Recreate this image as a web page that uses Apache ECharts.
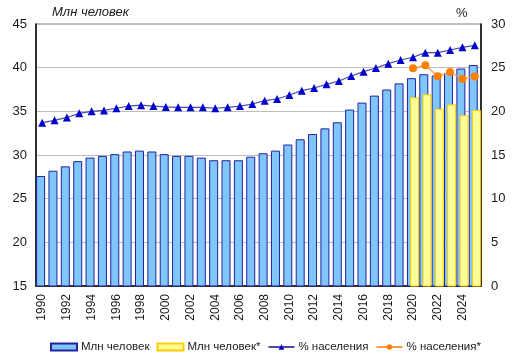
<!DOCTYPE html>
<html><head><meta charset="utf-8">
<script src="https://cdn.jsdelivr.net/npm/echarts@6/dist/echarts.min.js"></script>
<style>html,body{margin:0;padding:0;background:#fff}#c{width:517px;height:360px}</style>
</head><body><div id="c"></div>
<script>
const years = ['1990','1991','1992','1993','1994','1995','1996','1997','1998','1999','2000','2001','2002','2003','2004','2005','2006','2007','2008','2009','2010','2011','2012','2013','2014','2015','2016','2017','2018','2019','2020','2021','2022','2023','2024','2025'];
const mlnPeople = [27.6,28.2,28.7,29.3,29.7,29.9,30.1,30.4,30.5,30.4,30.1,29.9,29.9,29.7,29.4,29.4,29.4,29.8,30.2,30.5,31.2,31.8,32.4,33.05,33.75,35.2,36.0,36.8,37.5,38.2,38.8,39.25,39.1,39.4,39.9,40.3];
const mlnPeopleStar = [null,null,null,null,null,null,null,null,null,null,null,null,null,null,null,null,null,null,null,null,null,null,null,null,null,null,null,null,null,null,36.6,36.95,35.3,35.8,34.55,35.15];
const pctPop = [18.7,18.97,19.3,19.77,20.0,20.1,20.35,20.6,20.7,20.6,20.5,20.46,20.46,20.46,20.35,20.46,20.6,20.84,21.22,21.41,21.87,22.37,22.67,23.09,23.47,24.05,24.54,24.96,25.46,25.88,26.19,26.72,26.72,27.02,27.33,27.56];
const pctPopStar = [null,null,null,null,null,null,null,null,null,null,null,null,null,null,null,null,null,null,null,null,null,null,null,null,null,null,null,null,null,null,24.92,25.27,24.01,24.5,23.7,24.0];
const leftTicks = {min:15,max:45,interval:5};
const rightTicks = {min:0,max:30,interval:5};

const FONT = '"Liberation Sans", Arial, sans-serif';
const chart = echarts.init(document.getElementById('c'), null, {renderer:'canvas'});
chart.setOption({
  animation:false,
  textStyle:{fontFamily:FONT},
  grid:{left:36,right:36,top:24,bottom:74,show:true,borderColor:'#808080',borderWidth:1,backgroundColor:'transparent'},
  graphic:[
    {type:'text',left:52,top:6,style:{text:'Млн человек',font:'italic 13px '+FONT,fill:'#1a1a1a'}},
    {type:'text',left:456,top:7,style:{text:'%',font:'13px '+FONT,fill:'#1a1a1a'}}
  ],
  legend:{
    top:341,left:50,width:500,itemWidth:26,itemHeight:7,itemGap:7,
    padding:0,
    textStyle:{fontFamily:FONT,fontSize:11.5,color:'#1a1a1a',padding:[0,0,0,-1]},
    data:[
      {name:'Млн человек',icon:'rect'},
      {name:'Млн человек*',icon:'rect'},
      {name:'% населения'},
      {name:'% населения*'}
    ]
  },
  xAxis:{
    type:'category',data:years,boundaryGap:true,
    axisLine:{lineStyle:{color:'#000',width:1.5}},
    axisTick:{show:false},
    axisLabel:{rotate:90,interval:1,fontSize:12,color:'#1a1a1a',margin:8,fontFamily:FONT}
  },
  yAxis:[
    {type:'value',min:leftTicks.min,max:leftTicks.max,interval:leftTicks.interval,
     axisLine:{show:true,lineStyle:{color:'#000',width:1.5}},axisTick:{show:false},
     axisLabel:{fontSize:13,color:'#1a1a1a',margin:9,fontFamily:FONT},
     splitLine:{show:true,lineStyle:{color:'#bdbdbd',width:1}}},
    {type:'value',min:rightTicks.min,max:rightTicks.max,interval:rightTicks.interval,position:'right',
     axisLine:{show:true,lineStyle:{color:'#000',width:1.5}},axisTick:{show:false},
     axisLabel:{fontSize:13,color:'#1a1a1a',margin:10,fontFamily:FONT},
     splitLine:{show:false}}
  ],
  series:[
    {name:'Млн человек',type:'bar',data:mlnPeople,barWidth:9,barGap:'-65%',
     itemStyle:{color:'#7fc6fb',borderColor:'#2323a0',borderWidth:1}},
    {name:'Млн человек*',type:'bar',data:mlnPeopleStar,barWidth:9,barGap:'-65%',
     itemStyle:{color:'#ffff99',borderColor:'#ffcc00',borderWidth:1}},
    {name:'% населения',type:'line',yAxisIndex:1,data:pctPop,symbol:'triangle',symbolSize:8,
     lineStyle:{color:'#4a4aa8',width:1.2},itemStyle:{color:'#0000cc'},z:5},
    {name:'% населения*',type:'line',yAxisIndex:1,data:pctPopStar,symbol:'circle',symbolSize:8,
     lineStyle:{color:'#ff9a40',width:1.2},itemStyle:{color:'#ff8000'},z:6}
  ]
});
</script></body></html>
